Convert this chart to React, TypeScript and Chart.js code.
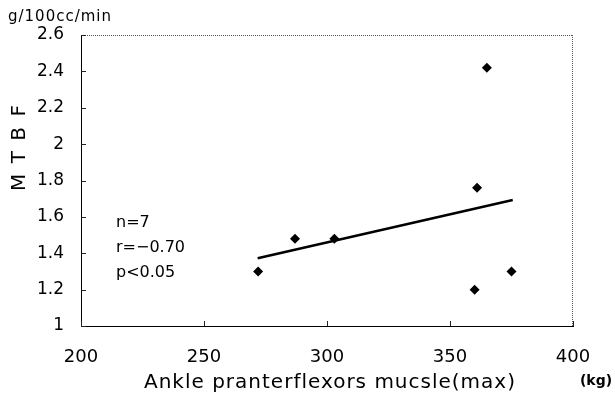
import React, { useEffect, useRef } from "react";
import { Chart, registerables } from "chart.js";

Chart.register(...registerables);

const muscleKg = [272, 287, 303, 361, 365, 360, 375];
const mtbf = [1.3, 1.48, 1.48, 1.76, 2.42, 1.2, 1.3];
const fitX = [271.8, 375.5];
const fitY = [1.372, 1.693];
const yUnit = "g/100cc/min";
const yTitle = "M T B F";
const xTitle = "Ankle pranterflexors mucsle(max)";
const xUnit = "(kg)";
const statLines = ["n=7", "r=\u22120.70", "p<0.05"];

const FONT = "'DejaVu Sans', sans-serif";

const decorPlugin = {
  id: "decor",
  afterDraw(chart: any) {
    const { ctx, chartArea, scales } = chart;
    const { left, right, top, bottom } = chartArea;
    ctx.save();
    // top & right dotted border
    ctx.strokeStyle = "#555";
    ctx.lineWidth = 1;
    ctx.setLineDash([1, 1]);
    ctx.beginPath();
    ctx.moveTo(left, top + 0.5);
    ctx.lineTo(right, top + 0.5);
    ctx.moveTo(right - 0.5, top);
    ctx.lineTo(right - 0.5, bottom);
    ctx.stroke();
    ctx.setLineDash([]);
    // inward ticks
    ctx.strokeStyle = "#222";
    ctx.beginPath();
    scales.y.ticks.forEach((t: any) => {
      const y = Math.round(scales.y.getPixelForValue(t.value)) + 0.5;
      ctx.moveTo(left, y);
      ctx.lineTo(left + 5, y);
    });
    scales.x.ticks.forEach((t: any) => {
      const x = Math.round(scales.x.getPixelForValue(t.value)) + 0.5;
      ctx.moveTo(x, bottom);
      ctx.lineTo(x, bottom - 5);
    });
    ctx.stroke();

    ctx.fillStyle = "#000";
    ctx.textBaseline = "middle";
    // y unit
    ctx.font = `15px ${FONT}`;
    ctx.textAlign = "left";
    (ctx as any).letterSpacing = "1px";
    ctx.fillText(yUnit, 8, 17);
    // y title rotated
    ctx.save();
    ctx.translate(20, 147);
    ctx.rotate(-Math.PI / 2);
    ctx.font = `20px ${FONT}`;
    ctx.textAlign = "center";
    (ctx as any).letterSpacing = "2px";
    ctx.fillText(yTitle, 0, 0);
    ctx.restore();
    // x title
    ctx.font = `20px ${FONT}`;
    ctx.textAlign = "center";
    (ctx as any).letterSpacing = "1px";
    ctx.fillText(xTitle, 330, 383);
    // x unit
    (ctx as any).letterSpacing = "0px";
    ctx.font = `bold 14px ${FONT}`;
    ctx.fillText(xUnit, 596, 381);
    // stats
    ctx.font = `16px ${FONT}`;
    ctx.textAlign = "left";
    statLines.forEach((s, i) => {
      ctx.fillText(s, 116, 223 + i * 25);
    });
    ctx.restore();
  },
};

export default function App() {
  const ref = useRef<HTMLCanvasElement>(null);
  useEffect(() => {
    if (!ref.current) return;
    const chart = new Chart(ref.current, {
      type: "scatter",
      data: {
        datasets: [
          {
            label: "data",
            data: muscleKg.map((x, i) => ({ x, y: mtbf[i] })),
            pointStyle: "rectRot",
            pointRadius: 5,
            backgroundColor: "#000",
            borderColor: "#000",
            borderWidth: 0,
          },
          {
            label: "fit",
            type: "line",
            data: fitX.map((x, i) => ({ x, y: fitY[i] })),
            borderColor: "#000",
            borderWidth: 2.5,
            pointRadius: 0,
            fill: false,
          } as any,
        ],
      },
      options: {
        animation: false,
        responsive: false,
        layout: { padding: { left: 0, top: 35, right: 42, bottom: 0 } },
        plugins: { legend: { display: false }, tooltip: { enabled: false } },
        scales: {
          x: {
            type: "linear",
            min: 200,
            max: 400,
            afterFit: (s: any) => {
              s.height = 72;
            },
            grid: { drawOnChartArea: false, drawTicks: false },
            border: { color: "#000", width: 1 },
            ticks: {
              stepSize: 50,
              padding: 21,
              color: "#000",
              font: { family: FONT, size: 18 },
              maxRotation: 0,
            },
          },
          y: {
            type: "linear",
            min: 1,
            max: 2.6,
            afterFit: (s: any) => {
              s.width = 81;
            },
            grid: { drawOnChartArea: false, drawTicks: false },
            border: { color: "#000", width: 1 },
            ticks: {
              stepSize: 0.2,
              padding: 17,
              color: "#000",
              font: { family: FONT, size: 17 },
              callback: (v: any) => String(Number(Number(v).toFixed(1))),
            },
          },
        },
      },
      plugins: [decorPlugin],
    });
    return () => chart.destroy();
  }, []);
  return (
    <div style={{ position: "fixed", left: 0, top: 0, width: 615, height: 398, background: "#fff" }}>
      <canvas ref={ref} width={615} height={398} style={{ display: "block" }} />
    </div>
  );
}
